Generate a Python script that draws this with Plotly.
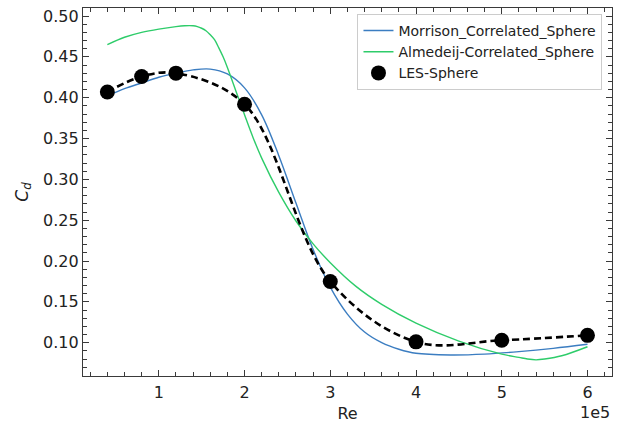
import plotly.graph_objects as go

# LES data
les_re = [0.4e5, 0.8e5, 1.2e5, 2.0e5, 3.0e5, 4.0e5, 5.0e5, 6.0e5]
les_cd = [0.407, 0.426, 0.430, 0.392, 0.175, 0.101, 0.103, 0.109]

# Morrison correlated curve
mor_re = [0.4e5, 0.6e5, 0.8e5, 1.0e5, 1.2e5, 1.4e5, 1.6e5, 1.8e5, 2.0e5, 2.2e5, 2.4e5,
          2.6e5, 2.8e5, 3.0e5, 3.2e5, 3.4e5, 3.6e5, 3.8e5, 4.0e5, 4.4e5, 4.8e5, 5.2e5,
          5.6e5, 6.0e5]
mor_cd = [0.402, 0.411, 0.418, 0.425, 0.430, 0.434, 0.435, 0.429, 0.412, 0.379, 0.329,
          0.271, 0.214, 0.168, 0.135, 0.113, 0.100, 0.092, 0.087, 0.085, 0.086, 0.089,
          0.093, 0.098]

# Almedeij correlated curve
alm_re = [0.4e5, 0.6e5, 0.8e5, 1.0e5, 1.2e5, 1.3e5, 1.4e5, 1.45e5, 1.5e5, 1.55e5, 1.6e5,
          1.65e5, 1.7e5, 1.75e5, 1.8e5, 1.9e5, 2.0e5, 2.1e5, 2.2e5, 2.4e5, 2.6e5, 2.8e5,
          3.0e5, 3.3e5, 3.6e5, 4.0e5, 4.5e5, 5.0e5, 5.2e5, 5.3e5, 5.4e5, 5.5e5, 5.7e5, 6.0e5]
alm_cd = [0.465, 0.474, 0.480, 0.484, 0.487, 0.488, 0.488, 0.487, 0.485, 0.482, 0.477,
          0.471, 0.461, 0.450, 0.437, 0.408, 0.379, 0.351, 0.326, 0.284, 0.249, 0.221,
          0.198, 0.169, 0.147, 0.124, 0.102, 0.086, 0.082, 0.080, 0.079, 0.080, 0.084, 0.095]

x_ticks = [1e5, 2e5, 3e5, 4e5, 5e5, 6e5]
x_labels = ["1", "2", "3", "4", "5", "6"]

FONT = "DejaVu Sans"
AX = "#3a3a3a"

fig = go.Figure()
fig.add_trace(go.Scatter(x=mor_re, y=mor_cd, mode="lines", name="Morrison_Correlated_Sphere",
                         line=dict(color="#3b7dc1", width=1.4, shape="spline")))
fig.add_trace(go.Scatter(x=alm_re, y=alm_cd, mode="lines", name="Almedeij-Correlated_Sphere",
                         line=dict(color="#2ecc6a", width=1.4, shape="spline")))
fig.add_trace(go.Scatter(x=les_re, y=les_cd, mode="lines", showlegend=False,
                         line=dict(color="black", width=2.6, dash="7px,4px", shape="spline",
                                   smoothing=1.0)))
fig.add_trace(go.Scatter(x=les_re, y=les_cd, mode="markers", name="LES-Sphere",
                         marker=dict(color="black", size=15)))

axis_common = dict(
    showgrid=False, zeroline=False, showline=True, linecolor=AX, linewidth=1.3,
    mirror="ticks", ticks="inside", ticklen=6, tickwidth=1.3, tickcolor=AX,
    tickfont=dict(family=FONT, size=16, color="#222"), automargin=False,
)

fig.update_xaxes(**axis_common, range=[0.116e5, 6.286e5], tickvals=x_ticks, ticktext=x_labels,
                 ticklabelstandoff=2,
                 minor=dict(dtick=0.2e5, tick0=0, ticks="inside", ticklen=3.5, tickwidth=1.1,
                            tickcolor=AX),
                 title=dict(text="Re", font=dict(family=FONT, size=16, color="#222"), standoff=6))
fig.update_yaxes(**axis_common, range=[0.0592, 0.5098], dtick=0.05, tick0=0, tickformat=".2f",
                 minor=dict(dtick=0.01, tick0=0, ticks="inside", ticklen=3.5, tickwidth=1.1,
                            tickcolor=AX),
                 title=dict(text="<i>C</i><sub><i>d</i></sub>",
                            font=dict(family=FONT, size=17, color="#222"), standoff=10))

fig.add_annotation(text="1e5", xref="paper", yref="paper", x=1.0, y=0, xanchor="right",
                   yanchor="top", yshift=-25, showarrow=False,
                   font=dict(family=FONT, size=16, color="#222"))

fig.update_layout(
    width=619, height=423,
    margin=dict(l=83, r=7, t=8, b=47, autoexpand=False),
    paper_bgcolor="white", plot_bgcolor="white",
    font=dict(family=FONT, color="#222"),
    legend=dict(x=0.982, y=0.984, xanchor="right", yanchor="top",
                bgcolor="rgba(255,255,255,0.85)", bordercolor="#cccccc", borderwidth=1,
                font=dict(family=FONT, size=14, color="#222"), itemwidth=30,
                tracegroupgap=0),
    showlegend=True,
)

fig.write_html("out.html")
